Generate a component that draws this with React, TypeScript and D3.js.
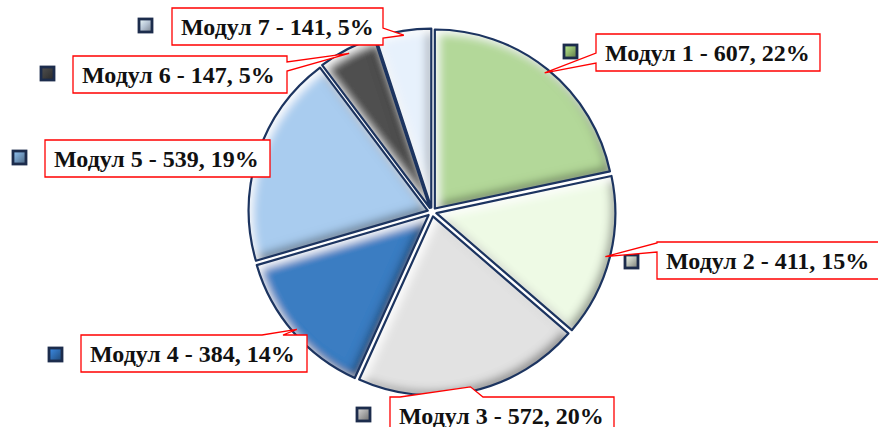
import * as d3 from "d3"

// chart data
const moduleNames = ["Модул 1", "Модул 2", "Модул 3", "Модул 4", "Модул 5", "Модул 6", "Модул 7"]
const moduleValues = [607, 411, 572, 384, 539, 147, 141]
const sliceColors = ["#b3d899", "#eefae5", "#e2e2e2", "#3a7dc2", "#a9ccef", "#4f4f4f", "#e7f1fc"]
const markerColors = ["#8fb56c", "#b9bfb4", "#a4a4a4", "#2e6bb0", "#6f96bc", "#3d3d3d", "#b5c3d3"]

// label placement (callout boxes, as placed in the original)
const boxX = [596, 657, 390, 81, 45, 73, 172]
const boxY = [34, 242, 397, 335, 140, 56, 8]
const boxW = [224, 240, 224, 226, 225, 214, 211]
const pointerEdge = ["left", "left", "top", "top", "none", "right", "right"]
const pointerA = [19, 1, 10, 181, 0, 6, 20]
const pointerB = [29, 10, 93, 202, 0, 15, 30]
const markerX = [564, 625, 357, 49, 13, 41, 139]
const markerY = [45, 255, 408, 348, 151, 67, 19]

const W = 878
const H = 427
const cx = 432
const cy = 212
const R = 179
const BOX_H = 37

function calloutPath(i: number, tip: [number, number]) {
  const x = boxX[i], y = boxY[i], w = boxW[i], h = BOX_H
  const e = pointerEdge[i]
  const a = pointerA[i], b = pointerB[i]
  const p: string[] = [`M${x},${y}`]
  if (e === "top") p.push(`L${x + a},${y}`, `L${tip[0]},${tip[1]}`, `L${x + b},${y}`)
  p.push(`L${x + w},${y}`)
  if (e === "right") p.push(`L${x + w},${y + a}`, `L${tip[0]},${tip[1]}`, `L${x + w},${y + b}`)
  p.push(`L${x + w},${y + h}`, `L${x},${y + h}`)
  if (e === "left") p.push(`L${x},${y + b}`, `L${tip[0]},${tip[1]}`, `L${x},${y + a}`)
  p.push("Z")
  return p.join(" ")
}

export default function App() {
  const total = d3.sum(moduleValues)
  const pie = d3.pie<number>().sort(null).startAngle(0).endAngle(2 * Math.PI)
  const arcs = pie(moduleValues)
  const arc = d3.arc<d3.PieArcDatum<number>>().innerRadius(0).outerRadius(R)
  const pct = (v: number) => Math.round((v / total) * 100)

  return (
    <div style={{ position: "absolute", left: 0, top: 0 }}>
      <svg width={W} height={H} style={{ display: "block", background: "#fff" }}>
        <defs>
          <filter id="bevel" x="-10%" y="-10%" width="120%" height="120%">
            <feComponentTransfer in="SourceAlpha" result="inv">
              <feFuncA type="table" tableValues="1 0" />
            </feComponentTransfer>
            <feGaussianBlur in="inv" stdDeviation="5" result="blur" />
            <feOffset in="blur" dx="-4" dy="-4" result="darkOff" />
            <feFlood floodColor="#000" floodOpacity="0.7" />
            <feComposite in2="darkOff" operator="in" result="dark" />
            <feComposite in="dark" in2="SourceAlpha" operator="in" result="darkIn" />
            <feOffset in="blur" dx="4" dy="4" result="lightOff" />
            <feFlood floodColor="#fff" floodOpacity="1" />
            <feComposite in2="lightOff" operator="in" result="light" />
            <feComposite in="light" in2="SourceAlpha" operator="in" result="lightIn" />
            <feMerge>
              <feMergeNode in="SourceGraphic" />
              <feMergeNode in="darkIn" />
              <feMergeNode in="lightIn" />
            </feMerge>
          </filter>
          {markerColors.map((c, i) => (
            <linearGradient key={i} id={`mk${i}`} x1="0" y1="0" x2="1" y2="1">
              <stop offset="0" stopColor={d3.color(c)!.brighter(0.8).toString()} />
              <stop offset="0.5" stopColor={c} />
              <stop offset="1" stopColor={d3.color(c)!.darker(1.2).toString()} />
            </linearGradient>
          ))}
        </defs>

        <g transform={`translate(${cx},${cy})`}>
          {arcs.map((d, i) => {
            const mid = (d.startAngle + d.endAngle) / 2
            const off = 4.5
            return (
              <g key={i} transform={`translate(${Math.sin(mid) * off},${-Math.cos(mid) * off})`}>
                <path d={arc(d) || ""} fill={sliceColors[i]} filter="url(#bevel)" />
                <path d={arc(d) || ""} fill="none" stroke="#1c3460" strokeWidth={2.2} strokeLinejoin="round" />
              </g>
            )
          })}
        </g>

        {arcs.map((d, i) => {
          const mid = (d.startAngle + d.endAngle) / 2
          const tip: [number, number] = [cx + Math.sin(mid) * R, cy - Math.cos(mid) * R]
          return (
            <g key={i}>
              <rect x={markerX[i]} y={markerY[i]} width={13} height={13} fill={`url(#mk${i})`} stroke="#1c2c4c" strokeWidth={2.8} />
              <path d={calloutPath(i, tip)} fill="#fff" stroke="#ff0000" strokeWidth={1.3} strokeLinejoin="miter" />
              <text
                x={boxX[i] + 9}
                y={boxY[i] + 27}
                fontFamily="'Liberation Serif', 'Times New Roman', serif"
                fontWeight="bold"
                fontSize={24}
                fill="#111"
              >
                {`${moduleNames[i]} - ${moduleValues[i]}, ${pct(moduleValues[i])}%`}
              </text>
            </g>
          )
        })}
      </svg>
    </div>
  )
}
